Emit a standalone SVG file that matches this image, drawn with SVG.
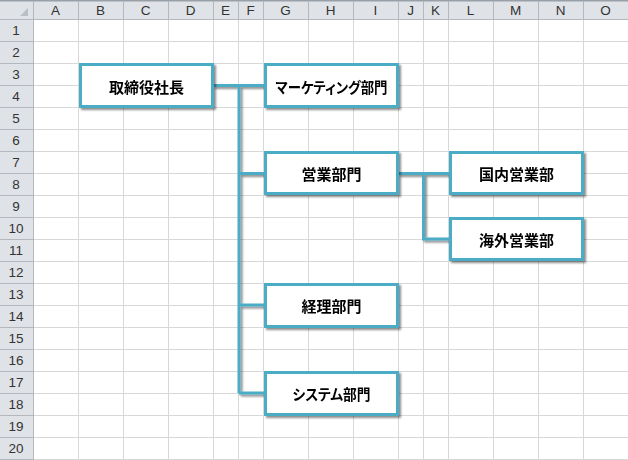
<svg xmlns="http://www.w3.org/2000/svg" width="628" height="460" viewBox="0 0 628 460">
<style>
.hdr{fill:#dfe3e8}
.hl{stroke:#b3b8be;stroke-width:1}
.grid{stroke:#d8d8d8;stroke-width:1}
.ht{font-family:"Liberation Sans","DejaVu Sans",sans-serif;font-size:13.5px;fill:#333;text-anchor:middle}
.box{fill:#fff;stroke:#4bacc6;stroke-width:3}
.lbl{font-family:"Noto Sans CJK JP",sans-serif;font-weight:bold;font-size:15px;fill:#000;text-anchor:middle;dominant-baseline:central;font-feature-settings:"palt"}
.con{fill:none;stroke:#4bacc6;stroke-width:3}
</style>
<defs>
<filter id="sh" x="-10%" y="-10%" width="130%" height="140%">
<feDropShadow dx="2" dy="2" stdDeviation="1.2" flood-color="#000" flood-opacity="0.45"/>
</filter>
</defs>
<rect x="0" y="0" width="628" height="460" fill="#fff"/>
<g id="grid">
<g class="grid">
<path d="M78.5 19V460M123.5 19V460M168.5 19V460M213.5 19V460M238.5 19V460M263.5 19V460M308.5 19V460M353.5 19V460M398.5 19V460M423.5 19V460M448.5 19V460M493.5 19V460M538.5 19V460M583.5 19V460"/>
<path d="M33 41.5H628M33 63.5H628M33 85.5H628M33 107.5H628M33 129.5H628M33 151.5H628M33 173.5H628M33 195.5H628M33 217.5H628M33 239.5H628M33 261.5H628M33 283.5H628M33 305.5H628M33 327.5H628M33 349.5H628M33 371.5H628M33 393.5H628M33 415.5H628M33 437.5H628M33 459.5H628"/>
</g>
</g>
<g id="headers">
<rect class="hdr" x="0" y="1" width="628" height="18"/>
<rect class="hdr" x="0" y="19" width="33" height="441"/>
<path d="M0 0.5H628" stroke="#9aa0a7" stroke-width="2"/>
<g class="hl">
<path d="M0 19.5H628M33.5 1V460"/>
<path d="M78.5 1V19M123.5 1V19M168.5 1V19M213.5 1V19M238.5 1V19M263.5 1V19M308.5 1V19M353.5 1V19M398.5 1V19M423.5 1V19M448.5 1V19M493.5 1V19M538.5 1V19M583.5 1V19"/>
<path d="M0 41.5H33M0 63.5H33M0 85.5H33M0 107.5H33M0 129.5H33M0 151.5H33M0 173.5H33M0 195.5H33M0 217.5H33M0 239.5H33M0 261.5H33M0 283.5H33M0 305.5H33M0 327.5H33M0 349.5H33M0 371.5H33M0 393.5H33M0 415.5H33M0 437.5H33M0 459.5H33"/>
</g>
<polygon points="20,16 28,16 28,8" fill="#b9bec5"/>
<g class="ht">
<text x="55.5" y="15">A</text><text x="100.5" y="15">B</text><text x="145.5" y="15">C</text><text x="190.5" y="15">D</text><text x="225.5" y="15">E</text><text x="250.5" y="15">F</text><text x="285.5" y="15">G</text><text x="330.5" y="15">H</text><text x="375.5" y="15">I</text><text x="410.5" y="15">J</text><text x="435.5" y="15">K</text><text x="470.5" y="15">L</text><text x="515.5" y="15">M</text><text x="560.5" y="15">N</text><text x="605.5" y="15">O</text>
<text x="16" y="35">1</text><text x="16" y="57">2</text><text x="16" y="79">3</text><text x="16" y="101">4</text><text x="16" y="123">5</text><text x="16" y="145">6</text><text x="16" y="167">7</text><text x="16" y="189">8</text><text x="16" y="211">9</text><text x="16" y="233">10</text><text x="16" y="255">11</text><text x="16" y="277">12</text><text x="16" y="299">13</text><text x="16" y="321">14</text><text x="16" y="343">15</text><text x="16" y="365">16</text><text x="16" y="387">17</text><text x="16" y="409">18</text><text x="16" y="431">19</text><text x="16" y="453">20</text>
</g>
</g>
<g id="connectors" filter="url(#sh)">
<path class="con" d="M213 85.5H239V393M239 85.5H265M239 173.5H265M239 305H265M239 393H265"/>
<path class="con" d="M398 173.5H450M423.5 173.5V239H450"/>
</g>
<g id="n-ceo" filter="url(#sh)"><rect class="box" x="80.5" y="64.5" width="132" height="42"/><text class="lbl" x="146.5" y="86">取締役社長</text></g>
<g id="n-marketing" filter="url(#sh)"><rect class="box" x="265.5" y="64.5" width="132" height="42"/><text class="lbl" x="331.5" y="86" textLength="112" lengthAdjust="spacingAndGlyphs">マーケティング部門</text></g>
<g id="n-sales" filter="url(#sh)"><rect class="box" x="265.5" y="152.5" width="132" height="41"/><text class="lbl" x="331.5" y="173.5">営業部門</text></g>
<g id="n-domestic" filter="url(#sh)"><rect class="box" x="450.5" y="152.5" width="132" height="41"/><text class="lbl" x="516.5" y="173.5">国内営業部</text></g>
<g id="n-overseas" filter="url(#sh)"><rect class="box" x="450.5" y="218.5" width="132" height="41"/><text class="lbl" x="516.5" y="239.5">海外営業部</text></g>
<g id="n-accounting" filter="url(#sh)"><rect class="box" x="265.5" y="284.5" width="132" height="42"/><text class="lbl" x="331.5" y="305.5">経理部門</text></g>
<g id="n-system" filter="url(#sh)"><rect class="box" x="265.5" y="372.5" width="132" height="42"/><text class="lbl" x="331.5" y="393.5" textLength="78" lengthAdjust="spacingAndGlyphs">システム部門</text></g>
</svg>
